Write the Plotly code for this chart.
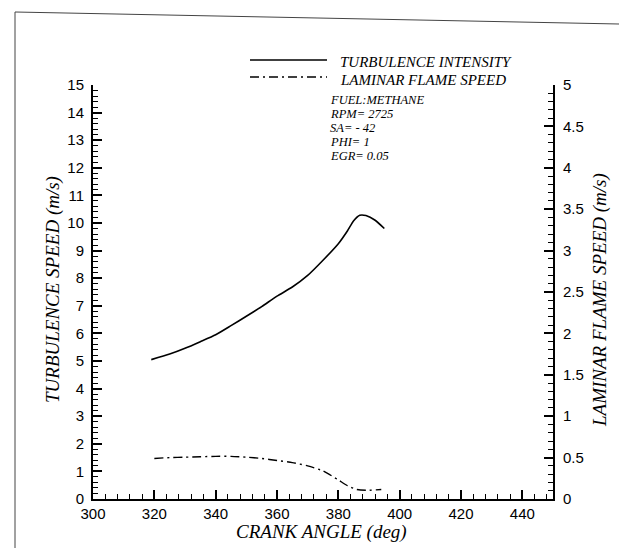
import plotly.graph_objects as go

# Crank angle (deg) and turbulence intensity (m/s)
crank_turb = [319, 325, 330, 335, 340, 345, 350, 355, 360, 365, 370, 375,
              380, 383, 385, 387, 389, 392, 395]
turb_speed = [5.05, 5.25, 5.46, 5.70, 5.95, 6.28, 6.62, 6.97, 7.35, 7.68,
              8.10, 8.65, 9.25, 9.72, 10.08, 10.28, 10.27, 10.10, 9.80]

# Crank angle (deg) and laminar flame speed (m/s)
crank_lam = [320, 325, 330, 335, 340, 345, 350, 355, 360, 365, 370, 375,
             380, 383, 386, 389, 394]
lam_speed = [0.49, 0.50, 0.505, 0.51, 0.515, 0.515, 0.505, 0.49, 0.465,
             0.44, 0.40, 0.34, 0.23, 0.16, 0.115, 0.105, 0.115]

x_ticks = [300, 320, 340, 360, 380, 400, 420, 440]
y_left_ticks = list(range(0, 16))
y_right_ticks = [0, 0.5, 1, 1.5, 2, 2.5, 3, 3.5, 4, 4.5, 5]
y_right_labels = ["0", "0.5", "1", "1.5", "2", "2.5", "3", "3.5", "4", "4.5", "5"]

legend_names = ["TURBULENCE INTENSITY", "LAMINAR FLAME SPEED"]
case_info = ["FUEL:METHANE", "RPM= 2725", "SA= - 42", "PHI= 1", "EGR= 0.05"]

W, H = 619, 554
L, R, T, B = 93, 66, 85, 55
pw, ph = W - L - R, H - T - B


def px(xp):
    return (xp - L) / pw


def py(yp):
    return (H - B - yp) / ph


serif = "Liberation Serif"
sans = "Liberation Sans, Arial"
dashdot = "9px,4px,2px,4px"

fig = go.Figure()
fig.add_trace(go.Scatter(x=crank_turb, y=turb_speed, mode="lines",
                         line=dict(color="black", width=1.6, shape="spline", smoothing=0.6),
                         name=legend_names[0], yaxis="y"))
fig.add_trace(go.Scatter(x=crank_lam, y=lam_speed, mode="lines",
                         line=dict(color="black", width=1.4, dash=dashdot,
                                   shape="spline", smoothing=0.6),
                         name=legend_names[1], yaxis="y2"))

tickfont = dict(family=sans, size=15, color="black")

fig.update_layout(
    width=W, height=H,
    margin=dict(l=L, r=R, t=T, b=B),
    paper_bgcolor="white", plot_bgcolor="white",
    showlegend=False,
    xaxis=dict(range=[300, 450], tickvals=x_ticks, ticks="inside", ticklen=9,
               tickwidth=1.5, tickcolor="black", showline=True, linecolor="black",
               linewidth=2, showgrid=False, zeroline=False, tickfont=tickfont,
               ticklabelstandoff=0,
               minor=dict(dtick=4, ticks="inside", ticklen=5, tickcolor="black",
                          tickwidth=1, showgrid=False)),
    yaxis=dict(range=[0, 15], tickvals=y_left_ticks, ticks="inside", ticklen=9,
               tickwidth=1.5, tickcolor="black", showline=True, linecolor="black",
               linewidth=2, showgrid=False, zeroline=False, tickfont=tickfont,
               ticklabelstandoff=4,
               minor=dict(dtick=0.2, ticks="inside", ticklen=5, tickcolor="black",
                          tickwidth=1, showgrid=False)),
    yaxis2=dict(range=[0, 5], overlaying="y", side="right", anchor="x",
                tickvals=y_right_ticks, ticktext=y_right_labels, ticks="inside",
                ticklen=9, tickwidth=1.5, tickcolor="black", showline=True,
                linecolor="black", linewidth=2, showgrid=False, zeroline=False,
                tickfont=tickfont, ticklabelstandoff=5,
                minor=dict(dtick=0.1, ticks="inside", ticklen=5, tickcolor="black",
                           tickwidth=1, showgrid=False)),
)


def label(text, xp, yp, size, xanchor="center", angle=0):
    return dict(text=text, x=px(xp), y=py(yp), xref="paper", yref="paper",
                xanchor=xanchor, yanchor="middle", textangle=angle, showarrow=False,
                font=dict(family=serif, size=size, style="italic", color="black"))


ann = []
# axis titles
ann.append(label("CRANK ANGLE (deg)", 321, 532, 19))
ann.append(label("TURBULENCE SPEED (m/s)", 53, 290, 19, angle=-90))
ann.append(label("LAMINAR FLAME SPEED (m/s)", 600, 300, 19, angle=-90))

# legend entries
for name, yt in zip(legend_names, [62, 80]):
    ann.append(label(name, 338, yt, 15, xanchor="left"))

# operating condition block
for txt, yt in zip(case_info, [100, 114, 128, 142, 156]):
    ann.append(label(txt, 328, yt, 12.5, xanchor="left"))

fig.update_layout(annotations=ann)

shapes = [
    # legend line samples
    dict(type="line", xref="paper", yref="paper", x0=px(250), x1=px(327),
         y0=py(60), y1=py(60), line=dict(color="black", width=1.4)),
    dict(type="line", xref="paper", yref="paper", x0=px(250), x1=px(327),
         y0=py(77), y1=py(77), line=dict(color="black", width=1.4, dash=dashdot)),
    # page frame
    dict(type="line", xref="paper", yref="paper", x0=px(15), x1=px(15),
         y0=py(12), y1=py(548), line=dict(color="#444444", width=1)),
    dict(type="line", xref="paper", yref="paper", x0=px(15), x1=px(619),
         y0=py(12), y1=py(24), line=dict(color="#444444", width=1)),
]
fig.update_layout(shapes=shapes)

fig.write_html("out.html")
